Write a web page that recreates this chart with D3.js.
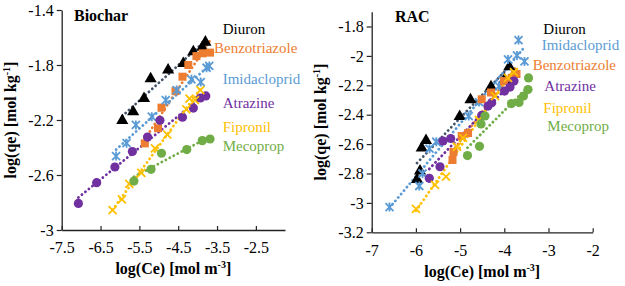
<!DOCTYPE html>
<html>
<head>
<meta charset="utf-8">
<script src="https://cdn.jsdelivr.net/npm/d3@7"></script>
<style>
  body { margin: 0; background: #fff; }
  svg text { font-family: "Liberation Serif", "Times New Roman", serif; }
</style>
</head>
<body>
<div id="chart"></div>
<script>
// ---- data: [log(Ce), log(qe)] ----
const biocharDiuron = [[-5.94,-2.20],[-5.66,-2.136],[-5.38,-2.04],[-5.21,-1.897],[-4.76,-1.833],[-4.37,-1.785],[-4.11,-1.70],[-3.88,-1.667],[-3.80,-1.63]];
const biocharBenzotriazole = [[-5.36,-2.37],[-5.02,-2.26],[-4.93,-2.11],[-4.57,-1.99],[-4.39,-1.885],[-4.24,-1.80],[-4.03,-1.735],[-3.87,-1.715],[-3.68,-1.71]];
const biocharImidacloprid = [[-6.10,-2.462],[-5.83,-2.369],[-5.59,-2.236],[-5.18,-2.176],[-4.82,-2.055],[-4.54,-1.982],[-4.16,-1.904],[-3.92,-1.924],[-3.77,-1.82],[-3.70,-1.807]];
const biocharAtrazine = [[-7.07,-2.807],[-6.60,-2.656],[-6.13,-2.542],[-5.68,-2.429],[-5.29,-2.324],[-4.97,-2.202],[-4.39,-2.180],[-4.11,-2.113],[-3.93,-2.04],[-3.79,-2.025]];
const biocharFipronil = [[-6.19,-2.855],[-5.95,-2.777],[-5.76,-2.665],[-5.45,-2.585],[-5.10,-2.406],[-4.78,-2.307],[-4.29,-2.122],[-4.21,-2.044],[-4.07,-2.055],[-3.93,-1.982]];
const biocharMecoprop = [[-5.64,-2.644],[-5.20,-2.559],[-4.93,-2.442],[-4.28,-2.415],[-3.88,-2.35],[-3.68,-2.338]];

const racDiuron = [[-5.975,-2.837],[-5.907,-2.780],[-5.869,-2.623],[-5.771,-2.572],[-5.009,-2.409],[-4.765,-2.295],[-4.301,-2.207],[-3.996,-2.157],[-3.887,-2.071]];
const racImidacloprid = [[-6.597,-3.028],[-5.923,-2.885],[-5.85,-2.80],[-5.692,-2.631],[-5.538,-2.584],[-4.805,-2.409],[-4.572,-2.314],[-4.12,-2.205],[-3.916,-2.024],[-3.713,-1.997],[-3.543,-2.038],[-3.679,-1.892]];
const racBenzotriazole = [[-5.172,-2.708],[-5.149,-2.654],[-4.964,-2.545],[-4.821,-2.525],[-4.511,-2.295],[-4.301,-2.249],[-4.007,-2.171],[-3.833,-2.150],[-3.724,-2.123]];
const racAtrazine = [[-5.697,-2.833],[-5.455,-2.754],[-5.387,-2.579],[-5.213,-2.562],[-4.511,-2.405],[-4.369,-2.341],[-4.285,-2.318],[-3.995,-2.239],[-3.871,-2.212],[-3.781,-2.171]];
const racFipronil = [[-5.998,-3.041],[-5.568,-2.878],[-5.319,-2.822],[-5.07,-2.618],[-4.934,-2.558],[-4.575,-2.436],[-4.21,-2.273],[-3.916,-2.15],[-3.781,-2.11]];
const racMecoprop = [[-4.833,-2.678],[-4.561,-2.615],[-4.527,-2.463],[-4.437,-2.409],[-3.837,-2.324],[-3.667,-2.317],[-3.566,-2.273],[-3.464,-2.229],[-3.452,-2.150]];

const biocharXTicks = [-7.5, -6.5, -5.5, -4.5, -3.5, -2.5];
const biocharYTicks = [-1.4, -1.8, -2.2, -2.6, -3];
const racXTicks = [-7, -6, -5, -4, -3, -2];
const racYTicks = [-1.8, -2, -2.2, -2.4, -2.6, -2.8, -3, -3.2];

const compounds = ["Diuron", "Benzotriazole", "Imidacloprid", "Atrazine", "Fipronil", "Mecoprop"];
const colors = {Diuron: "#000000", Benzotriazole: "#ED7D31", Imidacloprid: "#5B9BD5", Atrazine: "#7030A0", Fipronil: "#FFC000", Mecoprop: "#70AD47"};
const trendColors = {Diuron: "#44546A"};
const markers = {Diuron: "triangle", Benzotriazole: "square", Imidacloprid: "star", Atrazine: "circle", Fipronil: "x", Mecoprop: "circle"};

const serif = "'Liberation Serif', 'Times New Roman', serif";

let width = 625, height = 286;
let svg = d3.select("#chart").append("svg")
    .attr("width", width).attr("height", height)
    .attr("font-family", serif);

function fit(pts){
	let mx = d3.mean(pts, d => d[0]), my = d3.mean(pts, d => d[1]);
	let sxy = d3.sum(pts, d => (d[0]-mx)*(d[1]-my));
	let sxx = d3.sum(pts, d => (d[0]-mx)*(d[0]-mx));
	let b = sxy/sxx;
	return x => my + b*(x-mx);
}

function drawMarker(g, type, cx, cy, col){
	if(type == "triangle"){
		g.append("path").attr("d", d3.symbol(d3.symbolTriangle, 64)())
		  .attr("transform", "translate(" + cx + "," + (cy+0.5) + ")").attr("fill", col);
	} else if(type == "square"){
		g.append("rect").attr("x", cx-4).attr("y", cy-4).attr("width", 8).attr("height", 8).attr("fill", col);
	} else if(type == "circle"){
		g.append("circle").attr("cx", cx).attr("cy", cy).attr("r", 4.6).attr("fill", col);
	} else {
		let s = 4;
		g.append("path")
		  .attr("d", "M" + (cx-s) + "," + (cy-s) + "L" + (cx+s) + "," + (cy+s) + "M" + (cx-s) + "," + (cy+s) + "L" + (cx+s) + "," + (cy-s)
		    + (type == "star" ? "M" + cx + "," + (cy-s-0.5) + "L" + cx + "," + (cy+s+0.5) : ""))
		  .attr("stroke", col).attr("stroke-width", 1.8).attr("fill", "none");
	}
}

function drawPanel(p){
	let x = d3.scaleLinear().domain(p.xDomain).range(p.xRange);
	let y = d3.scaleLinear().domain(p.yDomain).range(p.yRange);

	let g = svg.append("g");

	// axes
	g.append("g").attr("transform", "translate(0," + p.yRange[0] + ")")
	    .call(d3.axisBottom(x).tickValues(p.xTicks).tickFormat(d => String(d)).tickSizeInner(-4).tickSizeOuter(0).tickPadding(12))
	    .attr("font-family", serif).attr("font-size", 16);
	g.append("g").attr("transform", "translate(" + p.xRange[0] + ",0)")
	    .call(d3.axisLeft(y).tickValues(p.yTicks).tickFormat(d => String(d)).tickSizeInner(5).tickSizeOuter(0).tickPadding(3))
	    .attr("font-family", serif).attr("font-size", 16);
	g.selectAll(".domain").attr("stroke", "#222").attr("stroke-width", 1.3);
	g.selectAll(".tick line").attr("stroke", "#222").attr("stroke-width", 1.2);
	g.selectAll(".tick text").attr("fill", "#000");

	// trendlines
	p.series.forEach(s => {
		let f = fit(s.pts);
		let x0 = d3.min(s.pts, d => d[0]), x1 = d3.max(s.pts, d => d[0]);
		g.append("line")
		  .attr("x1", x(x0)).attr("y1", y(f(x0)))
		  .attr("x2", x(x1)).attr("y2", y(f(x1)))
		  .attr("stroke", trendColors[s.name] || colors[s.name])
		  .attr("stroke-width", 2.8).attr("stroke-linecap", "round")
		  .attr("stroke-dasharray", "0.1 4.4");
	});

	// points
	p.series.forEach(s => {
		let mg = g.append("g");
		s.pts.forEach(d => drawMarker(mg, markers[s.name], x(d[0]), y(d[1]), colors[s.name]));
	});

	// panel title
	g.append("text").attr("x", p.title[1]).attr("y", p.title[2])
	  .attr("font-size", 16).attr("font-weight", "bold").text(p.title[0]);

	// labels
	p.labels.forEach(l => {
		g.append("text").attr("x", l[1]).attr("y", l[2]).attr("font-size", 15)
		  .attr("fill", colors[l[0]]).text(l[0]);
	});

	// axis titles
	let xt = g.append("text").attr("x", (p.xRange[0]+p.xRange[1])/2).attr("y", p.xTitleY)
	  .attr("text-anchor", "middle").attr("font-size", 16).attr("font-weight", "bold");
	xt.append("tspan").text("log(Ce) [mol m");
	xt.append("tspan").attr("font-size", 10).attr("dy", -6).text("-3");
	xt.append("tspan").attr("dy", 6).text("]");

	let yt = g.append("text")
	  .attr("transform", "translate(" + p.yTitleX + "," + (p.yRange[0]+p.yRange[1])/2 + ") rotate(-90)")
	  .attr("text-anchor", "middle").attr("font-size", 16).attr("font-weight", "bold");
	yt.append("tspan").text("log(qe) [mol kg");
	yt.append("tspan").attr("font-size", 10).attr("dy", -6).text("-1");
	yt.append("tspan").attr("dy", 6).text("]");
}

drawPanel({
	xDomain: [-7.5, -1.75], xRange: [61.7, 285],
	yDomain: [-3, -1.4], yRange: [230, 10],
	xTicks: biocharXTicks, yTicks: biocharYTicks,
	series: [
		{name: "Diuron", pts: biocharDiuron},
		{name: "Benzotriazole", pts: biocharBenzotriazole},
		{name: "Imidacloprid", pts: biocharImidacloprid},
		{name: "Atrazine", pts: biocharAtrazine},
		{name: "Fipronil", pts: biocharFipronil},
		{name: "Mecoprop", pts: biocharMecoprop}
	],
	title: ["Biochar", 74, 21],
	labels: [["Diuron", 222.7, 34], ["Benzotriazole", 214, 53], ["Imidacloprid", 222.7, 84], ["Atrazine", 222.7, 107.5], ["Fipronil", 222.7, 131.5], ["Mecoprop", 222.7, 150.5]],
	xTitleY: 274, yTitleX: 16
});

drawPanel({
	xDomain: [-7, -2], xRange: [371.7, 592.7],
	yDomain: [-3.2, -1.7], yRange: [232.3, 11.8],
	xTicks: racXTicks, yTicks: racYTicks,
	series: [
		{name: "Diuron", pts: racDiuron},
		{name: "Imidacloprid", pts: racImidacloprid},
		{name: "Benzotriazole", pts: racBenzotriazole},
		{name: "Atrazine", pts: racAtrazine},
		{name: "Fipronil", pts: racFipronil},
		{name: "Mecoprop", pts: racMecoprop}
	],
	title: ["RAC", 395, 21.5],
	labels: [["Diuron", 543.3, 33.5], ["Imidacloprid", 541.7, 49.5], ["Benzotriazole", 532.7, 69.5], ["Atrazine", 544.3, 91], ["Fipronil", 543.3, 112.5], ["Mecoprop", 547.3, 131]],
	xTitleY: 277, yTitleX: 326
});
</script>
</body>
</html>
